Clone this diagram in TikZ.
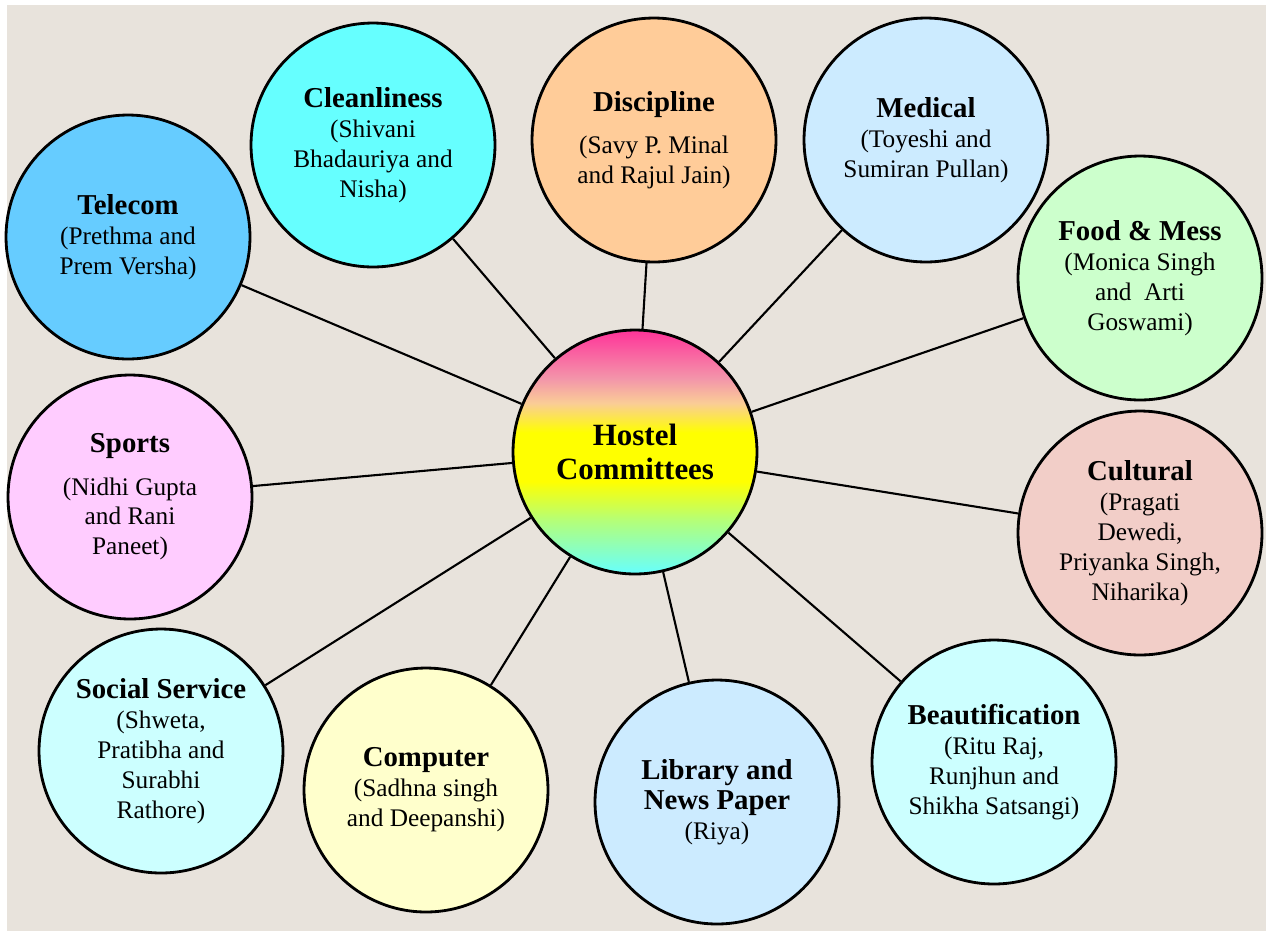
\documentclass[tikz,border=0pt]{standalone}
\usepackage{fontspec}
\setmainfont{Liberation Serif}

\definecolor{paper}{RGB}{232,227,220}
\definecolor{telecomblue}{RGB}{102,204,255}
\definecolor{cleancyan}{RGB}{102,255,255}
\definecolor{peach}{RGB}{255,204,153}
\definecolor{paleblue}{RGB}{204,235,255}
\definecolor{palegreen}{RGB}{204,255,204}
\definecolor{rosy}{RGB}{242,206,200}
\definecolor{palecyan}{RGB}{204,255,255}
\definecolor{paleyellow}{RGB}{255,255,204}
\definecolor{palepink}{RGB}{255,204,255}
% colours of the centre circle, top to bottom
\definecolor{hubtop}{RGB}{255,51,153}
\definecolor{hubrose}{RGB}{243,150,170}
\definecolor{hubpeach}{RGB}{250,205,150}
\definecolor{hubyellow}{RGB}{255,255,0}
\definecolor{hubgreen}{RGB}{180,255,120}
\definecolor{hubbottom}{RGB}{102,255,255}
\pgfdeclareverticalshading{hubshade}{100bp}{color(0bp)=(hubbottom); color(25bp)=(hubbottom);
  color(36bp)=(hubgreen); color(44bp)=(hubyellow); color(54bp)=(hubyellow);
  color(60bp)=(hubpeach); color(65bp)=(hubrose); color(75bp)=(hubtop); color(100bp)=(hubtop)}

\newcommand{\ttl}[1]{{\fontsize{16.4}{17}\selectfont\bfseries #1}}

\begin{document}
\begin{tikzpicture}[x=0.02cm, y=-0.02cm,
    committee/.style={circle, draw=black, line width=1.6pt, minimum size=4.88cm,
      inner sep=0pt, align=center, font=\fontsize{14.4}{17}\selectfont},
    spoke/.style={line width=1.2pt}]
  \useasboundingbox (0,0) rectangle (1266,931);
  \fill[paper] (7,5) rectangle (1266,931);

  % centre
  \node[committee, shading=hubshade, font=\fontsize{17.6}{19}\selectfont\bfseries] (hub) at (635,452) {Hostel\\Committees};

  % committees, clockwise from top left
  \node[committee, fill=telecomblue] (telecom) at (128,237) {\ttl{Telecom}\\(Prethma and\\Prem Versha)};
  \node[committee, fill=cleancyan] (clean) at (373,145) {\ttl{Cleanliness}\\(Shivani\\Bhadauriya and\\Nisha)};
  \node[committee, fill=peach] (discip) at (654,140) {\ttl{Discipline}\\[7pt](Savy P. Minal\\and Rajul Jain)};
  \node[committee, fill=paleblue] (medical) at (926,140) {\ttl{Medical}\\(Toyeshi and\\Sumiran Pullan)};
  \node[committee, fill=palegreen] (food) at (1140,278) {\ttl{Food \& Mess}\\(Monica Singh\\and~~Arti\\Goswami)};
  \node[committee, fill=rosy] (cultural) at (1140,533) {\ttl{Cultural}\\(Pragati\\Dewedi,\\Priyanka Singh,\\Niharika)};
  \node[committee, fill=palecyan] (beauty) at (994,762) {\ttl{Beautification}\\(Ritu Raj,\\Runjhun and\\Shikha Satsangi)};
  \node[committee, fill=paleblue] (library) at (717,802) {\ttl{Library and}\\\ttl{News Paper}\\(Riya)};
  \node[committee, fill=paleyellow] (computer) at (426,790) {\ttl{Computer}\\(Sadhna singh\\and Deepanshi)};
  \node[committee, fill=palecyan] (social) at (161,751) {\ttl{Social Service}\\(Shweta,\\Pratibha and\\Surabhi\\Rathore)};
  \node[committee, fill=palepink] (sports) at (130,497) {\ttl{Sports}\\[7pt](Nidhi Gupta\\and Rani\\Paneet)};

  \foreach \n in {telecom,clean,discip,medical,food,cultural,beauty,library,computer,social,sports}
    \draw[spoke] (hub) -- (\n);
\end{tikzpicture}
\end{document}
